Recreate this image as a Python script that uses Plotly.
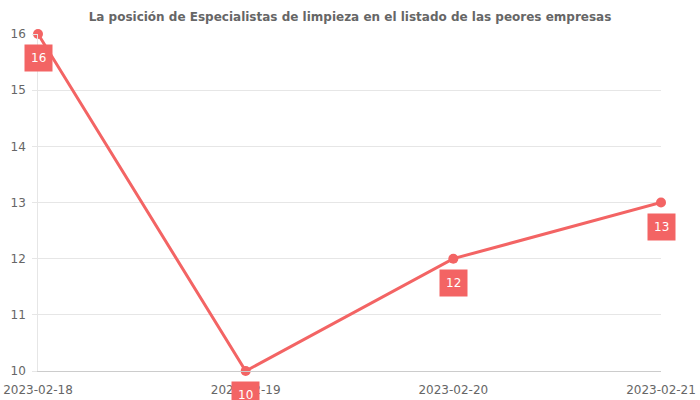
import plotly.graph_objects as go

# Data
dates = ['2023-02-18', '2023-02-19', '2023-02-20', '2023-02-21']
positions = [16, 10, 12, 13]

color = '#f36464'

trace = go.Scatter(
    x=dates,
    y=positions,
    mode='lines+markers',
    line=dict(color=color, width=3),
    marker=dict(color=color, size=10),
    cliponaxis=False,
    hoverinfo='x+y',
)

# Value labels in red boxes just below each point
annotations = [
    dict(
        x=d, y=v, xref='x', yref='y',
        text=str(v), showarrow=False, yshift=-24,
        bgcolor=color, borderpad=6,
        font=dict(color='white', size=12, family='DejaVu Sans'),
    )
    for d, v in zip(dates, positions)
]

layout = go.Layout(
    width=700, height=400,
    margin=dict(l=38, r=39, t=34, b=29),
    paper_bgcolor='white', plot_bgcolor='white',
    title=dict(
        text='<b>La posición de Especialistas de limpieza en el listado de las peores empresas</b>',
        x=0.5, xanchor='center', y=0.968, yanchor='top',
        font=dict(family='DejaVu Sans', size=12, color='#666666'),
    ),
    font=dict(family='DejaVu Sans', size=12, color='#666666'),
    xaxis=dict(
        type='date', range=[dates[0], dates[-1]],
        tickvals=dates, ticktext=dates,
        showgrid=False, showline=True, linecolor='#cccccc', linewidth=1,
        ticks='outside', ticklen=8, tickcolor='rgba(0,0,0,0)',
        zeroline=False, automargin=False,
        ticklabeloverflow='allow', tickfont=dict(color='#666666'),
    ),
    yaxis=dict(
        range=[10, 16], dtick=1, ticksuffix=' ',
        showgrid=True, gridcolor='#e6e6e6',
        showline=True, linecolor='#e6e6e6', linewidth=1,
        ticks='outside', ticklen=5, tickcolor='#e6e6e6',
        zeroline=False, automargin=False, tickfont=dict(color='#666666'),
    ),
    showlegend=False,
    annotations=annotations,
)

fig = go.Figure(data=[trace], layout=layout)
# drop the default page margin so the figure sits at the window corner
fig.write_html(
    "out.html",
    config={'displayModeBar': False},
    post_script="document.body.style.margin='0';",
)
